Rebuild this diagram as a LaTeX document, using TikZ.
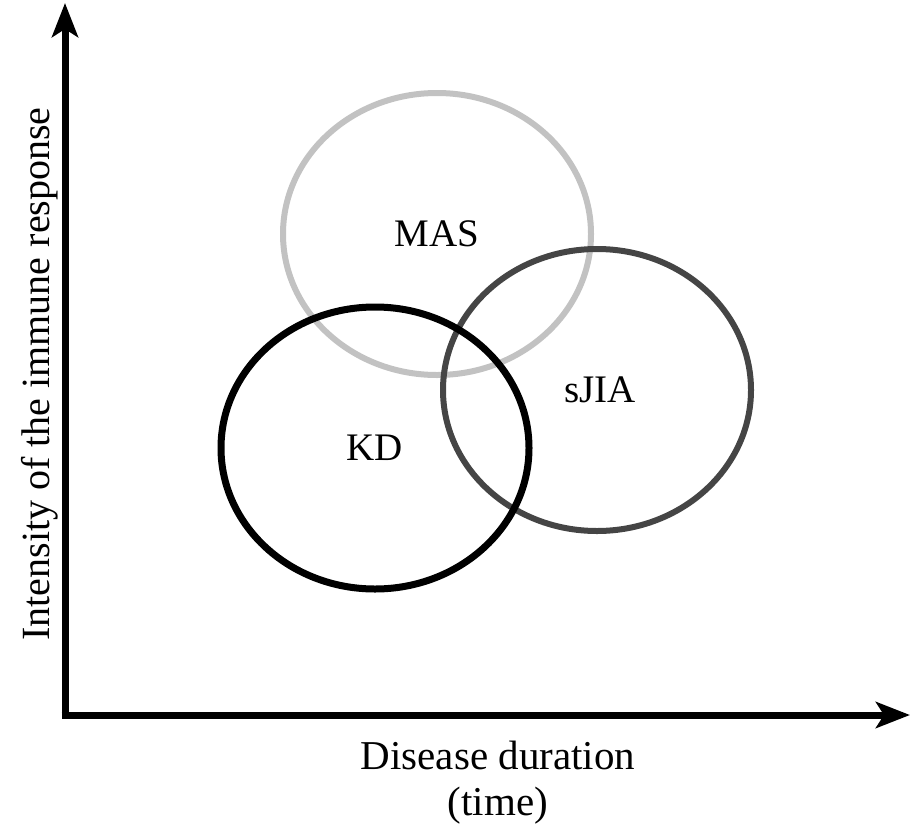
\documentclass[tikz,border=0pt]{standalone}
\usepackage{fontspec}
\setmainfont{Liberation Serif}
\usetikzlibrary{arrows.meta,shapes.geometric}

\definecolor{masgray}{gray}{0.76}
\definecolor{sjiagray}{gray}{0.27}

\tikzset{
  axisline/.style={line width=7pt, -{Stealth[length=34pt,width=26pt,inset=8pt]}},
  venn/.style={ellipse, draw, line width=6pt, minimum width=308pt, minimum height=282pt,
    inner sep=0pt, font=\fontsize{39}{45}\selectfont},
  axislabel/.style={font=\fontsize{40}{46}\selectfont, inner sep=0pt}
}

\begin{document}
\begin{tikzpicture}[x=1pt,y=-1pt]
    \useasboundingbox (0,0) rectangle (915,830);

    % axes
    \coordinate (origin) at (65,715);
    \coordinate (ytip) at (65,3);
    \coordinate (xtip) at (910,715);
    \draw[axisline] ([yshift=-3.5pt]origin) -- (ytip);
    \draw[axisline] ([xshift=-3.5pt]origin) -- (xtip);

    % draw ellipses (back to front)
    \node[venn, draw=masgray] (mas) at (437,234) {MAS};
    \node[venn, draw=sjiagray] (sjia) at (597,390) {\hspace{6pt}sJIA};
    \node[venn, draw=black, line width=7pt] (kd) at (375,448) {KD};

    % axis labels
    \node[axislabel, rotate=90, anchor=base] (ylab) at (49,374) {Intensity of the immune response};
    \node[axislabel, anchor=base, font=\fontsize{41}{47}\selectfont] (xlab) at (498,769) {Disease duration};
    \node[axislabel, anchor=base, font=\fontsize{41}{47}\selectfont] (tlab) at (498,815) {(time)};
\end{tikzpicture}
\end{document}
